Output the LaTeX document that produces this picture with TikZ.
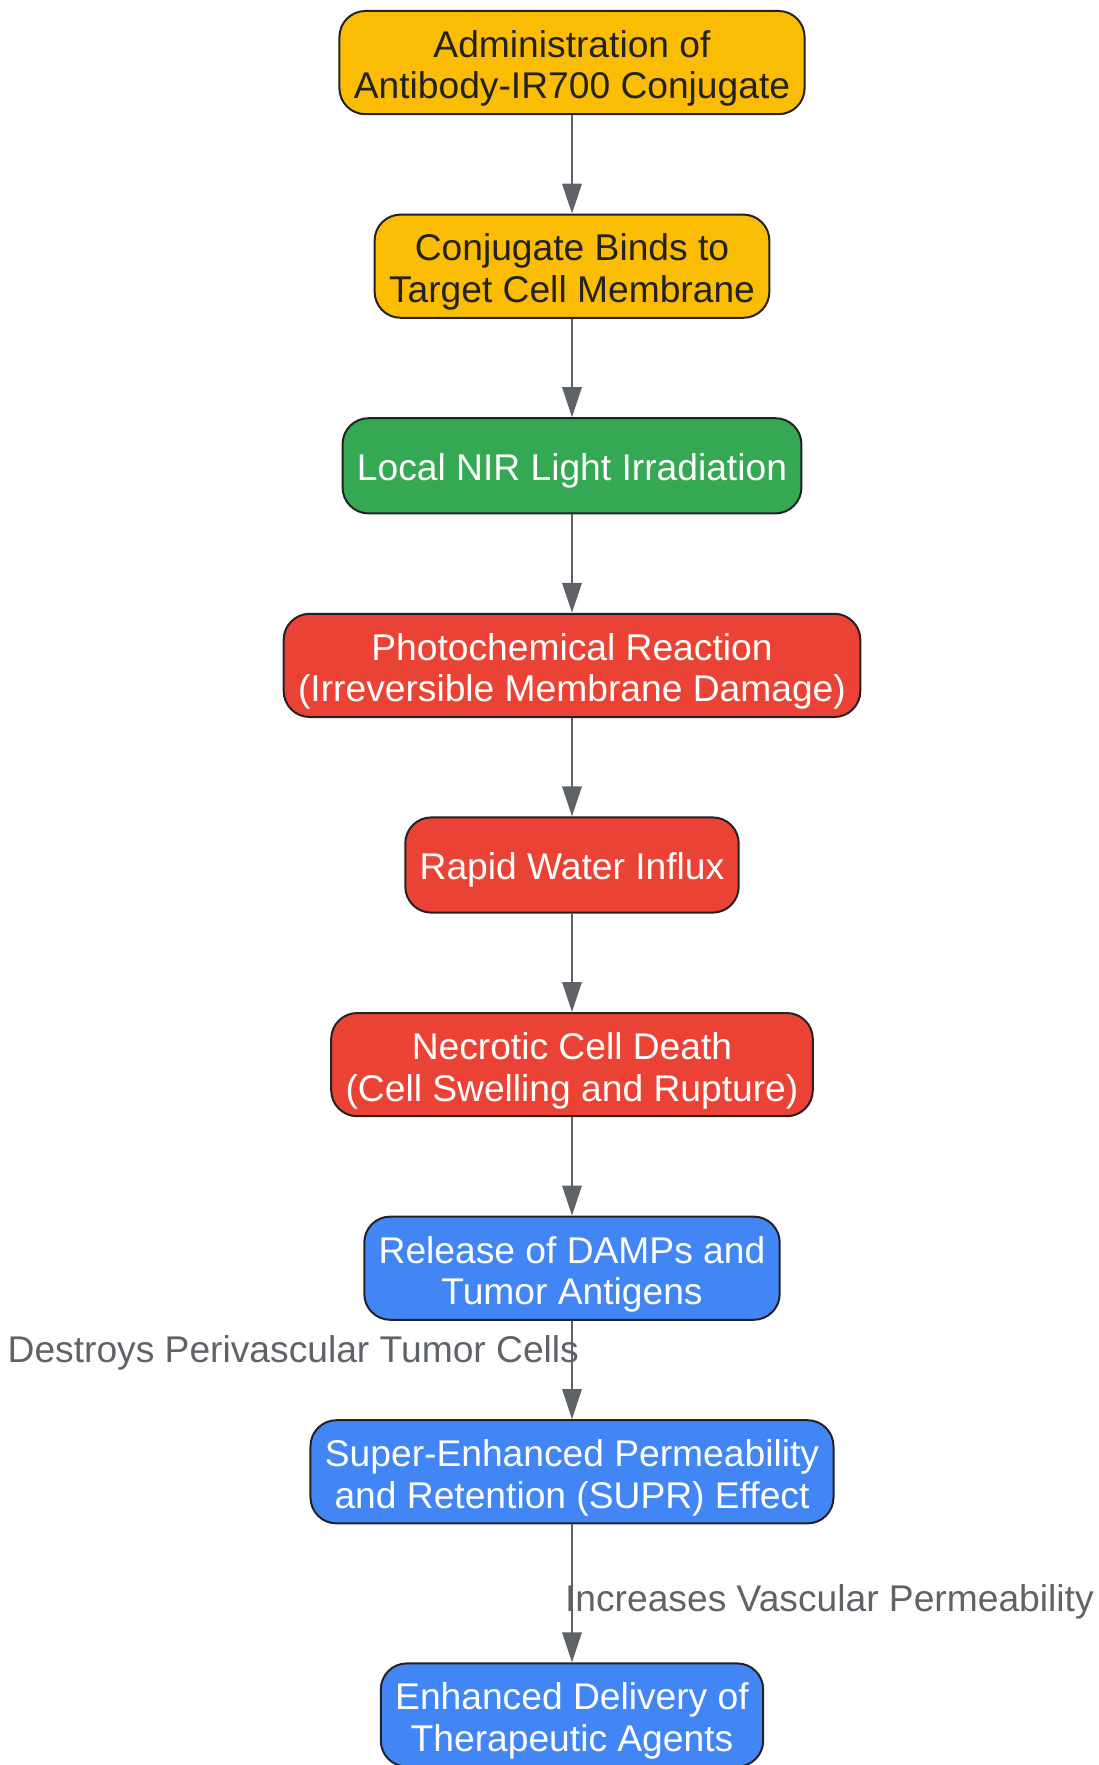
\documentclass[tikz,border=0pt]{standalone}
\usepackage{fontspec}
\setmainfont{Liberation Sans}
\usepackage{tikz}
\usetikzlibrary{positioning,arrows.meta}

\definecolor{gyellow}{HTML}{FBBC04}
\definecolor{ggreen}{HTML}{34A853}
\definecolor{gred}{HTML}{EA4335}
\definecolor{gblue}{HTML}{4285F4}
\definecolor{boxline}{HTML}{222222}
\definecolor{edgegray}{HTML}{5F6368}

\begin{document}
\begin{tikzpicture}[node distance=49.2pt,
    box/.style={draw=boxline, line width=1pt, rounded corners=13pt, align=center,
      inner xsep=7.2pt, inner ysep=3.6pt, minimum height=47.6pt,
      text height=18.8pt, text depth=4pt,
      font=\fontsize{18.6pt}{20.8pt}\selectfont},
    two/.style={text height=40.4pt},
    yel/.style={box, fill=gyellow, text=boxline},
    grn/.style={box, fill=ggreen, text=white},
    rd/.style={box, fill=gred, text=white},
    blu/.style={box, fill=gblue, text=white},
    conn/.style={every edge/.style={draw=edgegray, line width=1.1pt,
        -{Triangle[length=15pt,width=9.7pt]}}},
    lbl/.style={text=edgegray, font=\fontsize{18.6pt}{20.8pt}\selectfont, inner sep=0pt}]
    \path[use as bounding box] (-286pt,5pt) rectangle ++(549pt,-882.5pt);
    \node [yel, two, anchor=north] (admin) at (0,0) {Administration of\\Antibody-IR700 Conjugate};
    \node [yel, two, below=of admin] (binds) {Conjugate Binds to\\Target Cell Membrane};
    \node [grn, below=of binds] (nir) {Local NIR Light Irradiation};
    \node [rd, two, below=of nir] (photo) {Photochemical Reaction\\(Irreversible Membrane Damage)};
    \node [rd, below=of photo] (influx) {Rapid Water Influx};
    \node [rd, two, below=of influx] (necro) {Necrotic Cell Death\\(Cell Swelling and Rupture)};
    \node [blu, two, below=of necro] (damps) {Release of DAMPs and\\Tumor Antigens};
    \node [blu, two, below=of damps] (supr) {Super-Enhanced Permeability\\and Retention (SUPR) Effect};
    \node [blu, two, below=69pt of supr] (deliv) {Enhanced Delivery of\\Therapeutic Agents};
    \path[conn]
    (admin) edge (binds)
    (binds) edge (nir)
    (nir) edge (photo)
    (photo) edge (influx)
    (influx) edge (necro)
    (necro) edge (damps)
    (damps) edge node [lbl, pos=0.33, anchor=east, xshift=4pt] {Destroys Perivascular Tumor Cells} (supr)
    (supr) edge node [lbl, pos=0.56, anchor=west, xshift=-4pt] {Increases Vascular Permeability} (deliv);
  \end{tikzpicture}
\end{document}
